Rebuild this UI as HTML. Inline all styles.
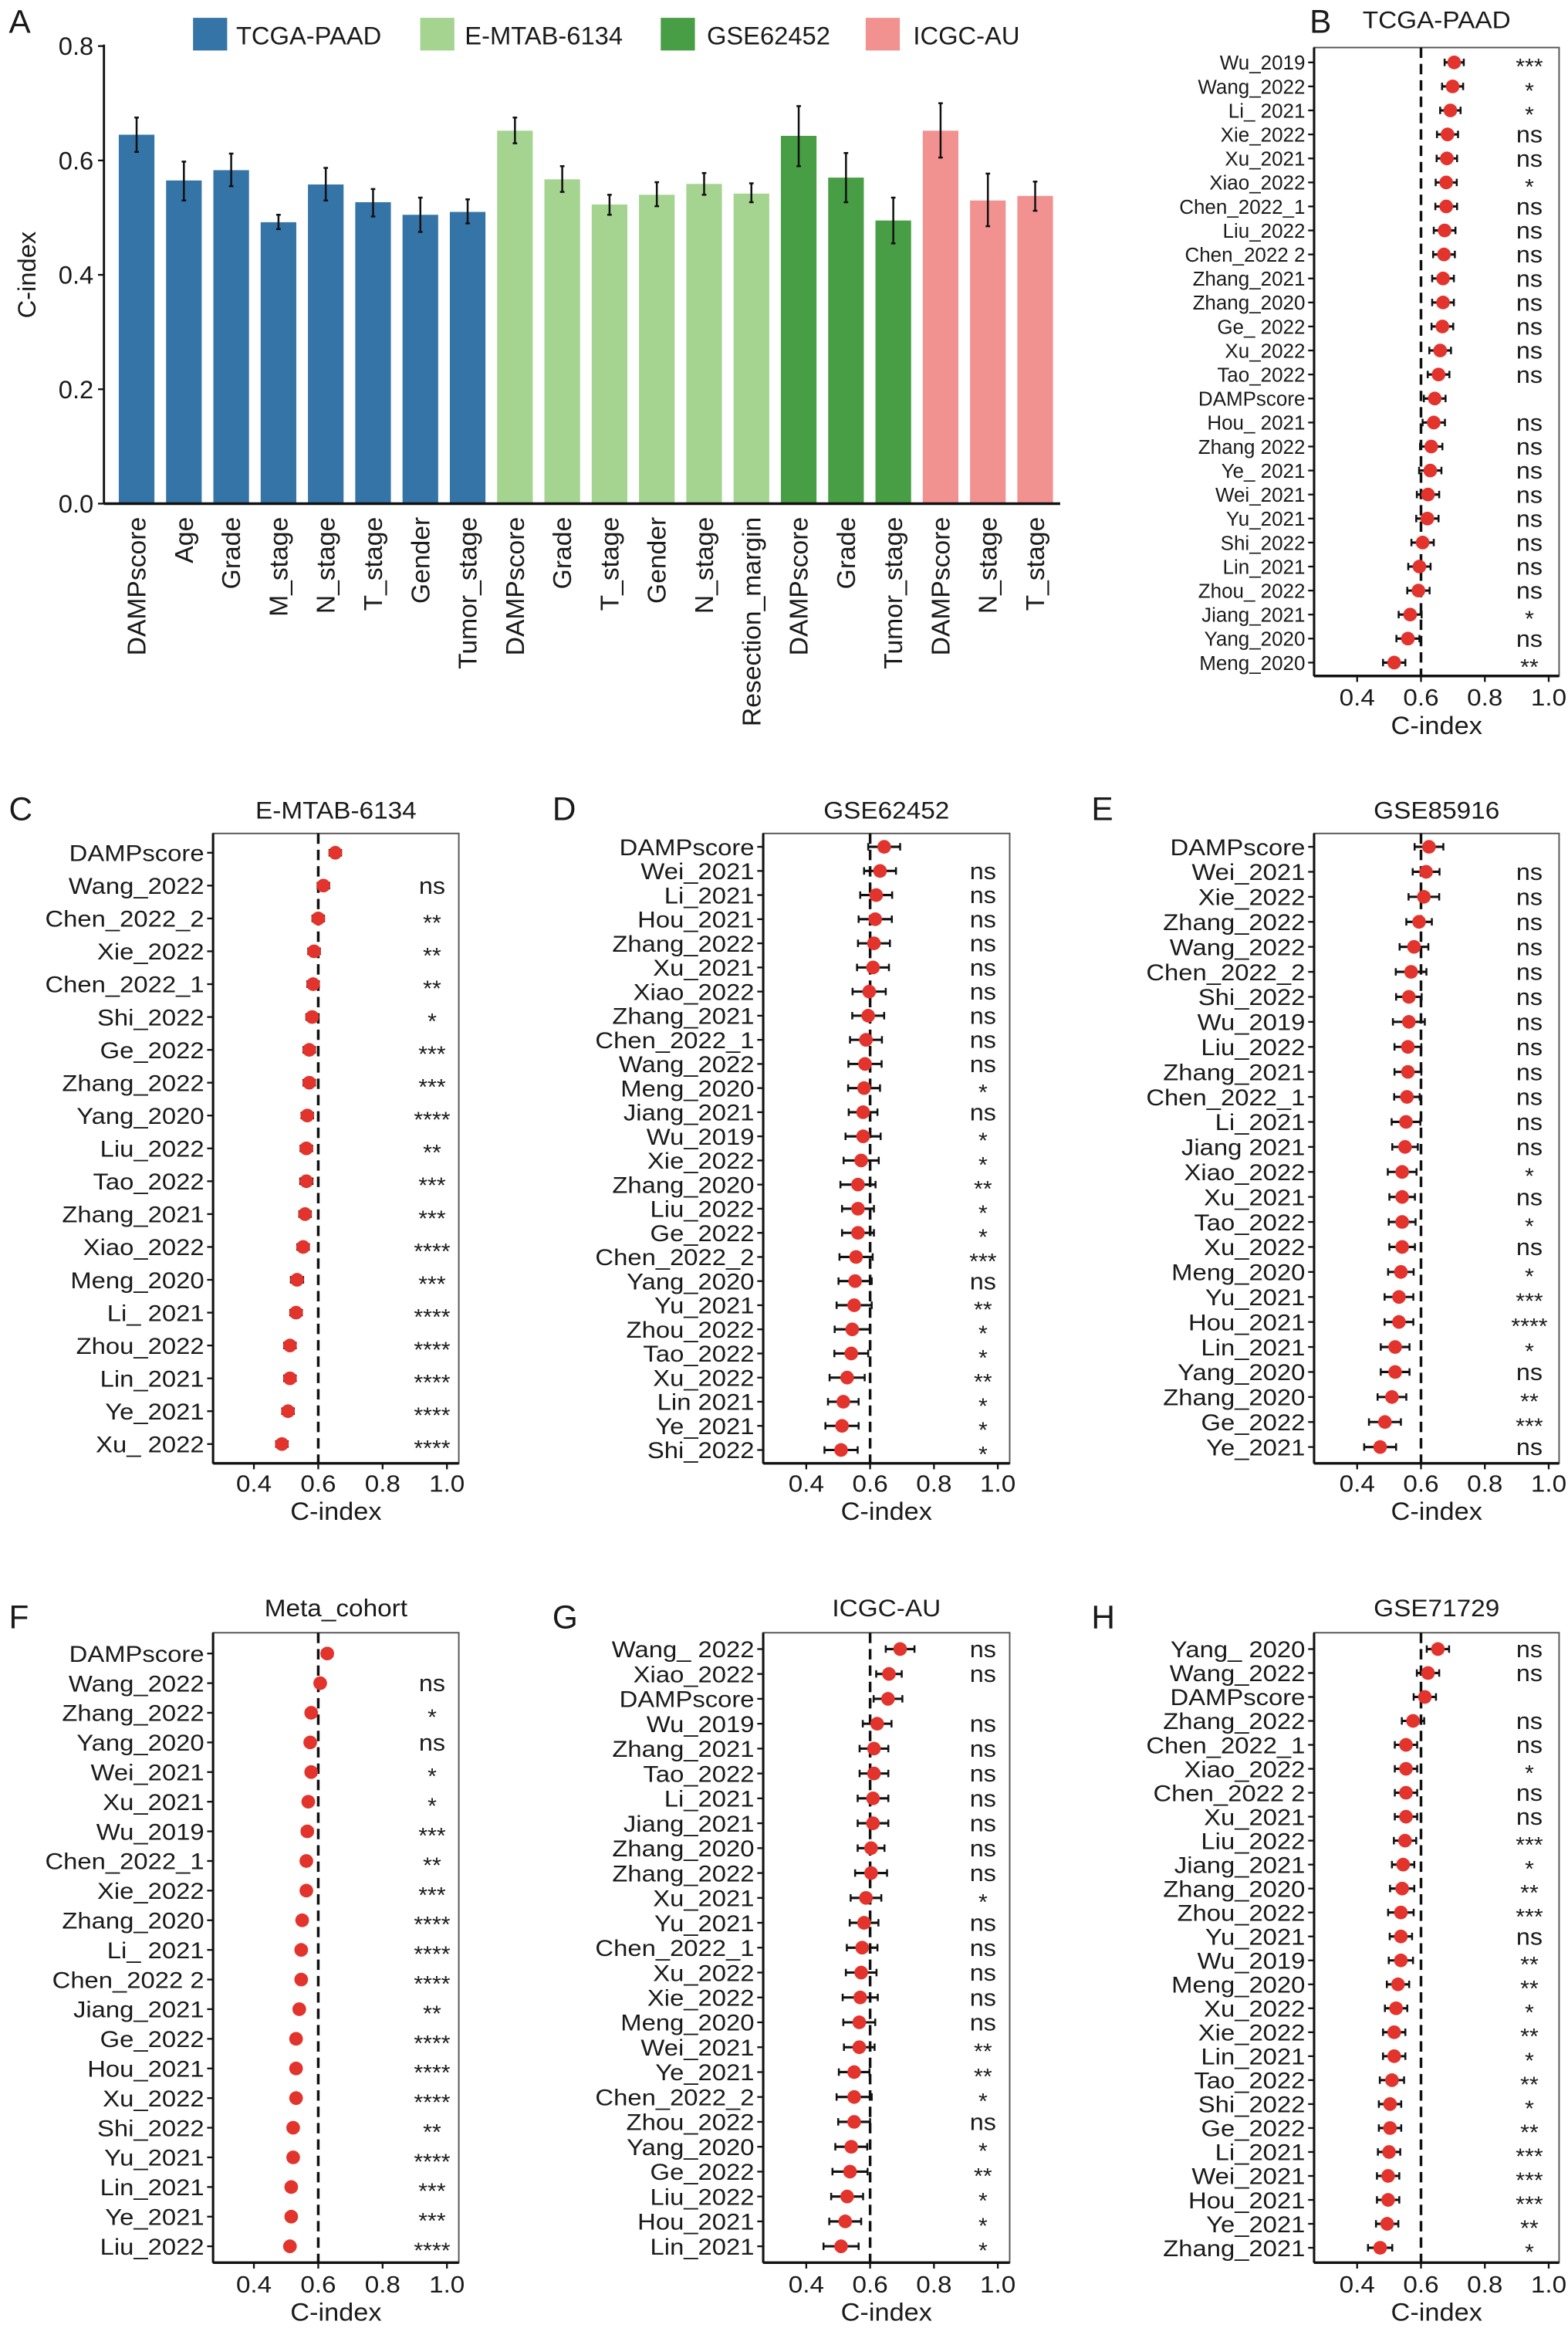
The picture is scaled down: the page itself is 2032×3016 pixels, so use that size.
<!DOCTYPE html>
<html><head><meta charset="utf-8">
<style>
html,body{margin:0;padding:0;background:#fff;}
svg{display:block;font-family:"Liberation Sans",Arial,sans-serif;}
</style></head>
<body>
<svg id="fig" width="2032" height="3016" viewBox="0 0 1056 1567" preserveAspectRatio="none" xmlns="http://www.w3.org/2000/svg"></svg>
<script>
// ---------- Panel A data ----------
const aCategories = ["DAMPscore","Age","Grade","M_stage","N_stage","T_stage","Gender","Tumor_stage","DAMPscore","Grade","T_stage","Gender","N_stage","Resection_margin","DAMPscore","Grade","Tumor_stage","DAMPscore","N_stage","T_stage"];
const aGroups = [0,0,0,0,0,0,0,0,1,1,1,1,1,1,2,2,2,3,3,3];
const aValues = [0.645,0.565,0.583,0.492,0.558,0.527,0.505,0.510,0.652,0.567,0.523,0.540,0.559,0.542,0.643,0.570,0.495,0.652,0.530,0.538];
const aLower  = [0.615,0.530,0.555,0.480,0.530,0.502,0.475,0.490,0.630,0.545,0.505,0.520,0.540,0.527,0.590,0.527,0.455,0.605,0.485,0.512];
const aUpper  = [0.675,0.598,0.612,0.505,0.587,0.550,0.535,0.532,0.675,0.590,0.540,0.562,0.578,0.560,0.695,0.613,0.535,0.700,0.577,0.563];
const aGroupNames = ["TCGA-PAAD","E-MTAB-6134","GSE62452","ICGC-AU"];
const aYTicks = [0,0.2,0.4,0.6,0.8];

// ---------- Panel B ----------
const bLabels = ["Wu_2019","Wang_2022","Li_ 2021","Xie_2022","Xu_2021","Xiao_2022","Chen_2022_1","Liu_2022","Chen_2022 2","Zhang_2021","Zhang_2020","Ge_ 2022","Xu_2022","Tao_2022","DAMPscore","Hou_ 2021","Zhang 2022","Ye_ 2021","Wei_2021","Yu_2021","Shi_2022","Lin_2021","Zhou_ 2022","Jiang_2021","Yang_2020","Meng_2020"];
const bValues = [0.704,0.699,0.692,0.683,0.681,0.679,0.679,0.674,0.672,0.669,0.669,0.667,0.660,0.655,0.643,0.640,0.632,0.629,0.622,0.620,0.605,0.595,0.592,0.566,0.559,0.516];
const bErr = [0.030,0.033,0.032,0.033,0.032,0.033,0.034,0.034,0.034,0.034,0.034,0.034,0.034,0.034,0.034,0.035,0.035,0.035,0.035,0.035,0.035,0.035,0.035,0.036,0.036,0.035];
const bSig = ["***","*","*","ns","ns","*","ns","ns","ns","ns","ns","ns","ns","ns","","ns","ns","ns","ns","ns","ns","ns","ns","*","ns","**"];

// ---------- Panel C ----------
const cLabels = ["DAMPscore","Wang_2022","Chen_2022_2","Xie_2022","Chen_2022_1","Shi_2022","Ge_2022","Zhang_2022","Yang_2020","Liu_2022","Tao_2022","Zhang_2021","Xiao_2022","Meng_2020","Li_ 2021","Zhou_2022","Lin_2021","Ye_2021","Xu_ 2022"];
const cValues = [0.653,0.616,0.600,0.587,0.584,0.581,0.572,0.572,0.566,0.563,0.563,0.559,0.553,0.534,0.531,0.512,0.512,0.506,0.487];
const cErr = [0.018,0.018,0.018,0.018,0.018,0.018,0.018,0.018,0.018,0.018,0.019,0.018,0.018,0.019,0.018,0.018,0.018,0.018,0.018];
const cSig = ["","ns","**","**","**","*","***","***","****","**","***","***","****","***","****","****","****","****","****"];

// ---------- Panel D ----------
const dLabels = ["DAMPscore","Wei_2021","Li_2021","Hou_2021","Zhang_2022","Xu_2021","Xiao_2022","Zhang_2021","Chen_2022_1","Wang_2022","Meng_2020","Jiang_2021","Wu_2019","Xie_2022","Zhang_2020","Liu_2022","Ge_2022","Chen_2022_2","Yang_2020","Yu_2021","Zhou_2022","Tao_2022","Xu_2022","Lin 2021","Ye_2021","Shi_2022"];
const dValues = [0.644,0.631,0.619,0.616,0.612,0.609,0.597,0.594,0.587,0.584,0.581,0.578,0.578,0.572,0.562,0.562,0.562,0.556,0.553,0.550,0.544,0.541,0.528,0.516,0.512,0.509];
const dErr = [0.050,0.050,0.050,0.052,0.050,0.050,0.052,0.050,0.050,0.052,0.050,0.045,0.055,0.055,0.055,0.050,0.050,0.052,0.052,0.055,0.055,0.053,0.055,0.048,0.052,0.052];
const dSig = ["","ns","ns","ns","ns","ns","ns","ns","ns","ns","*","ns","*","*","**","*","*","***","ns","**","*","*","**","*","*","*"];

// ---------- Panel E ----------
const eLabels = ["DAMPscore","Wei_2021","Xie_2022","Zhang_2022","Wang_2022","Chen_2022_2","Shi_2022","Wu_2019","Liu_2022","Zhang_2021","Chen_2022_1","Li_2021","Jiang 2021","Xiao_2022","Xu_2021","Tao_2022","Xu_2022","Meng_2020","Yu_2021","Hou_2021","Lin_2021","Yang_2020","Zhang_2020","Ge_2022","Ye_2021"];
const eValues = [0.625,0.616,0.609,0.594,0.578,0.569,0.562,0.562,0.559,0.559,0.556,0.553,0.550,0.541,0.541,0.541,0.541,0.537,0.531,0.531,0.519,0.519,0.509,0.487,0.472];
const eErr = [0.045,0.042,0.048,0.040,0.045,0.048,0.040,0.050,0.042,0.042,0.040,0.045,0.040,0.045,0.040,0.042,0.040,0.040,0.045,0.045,0.045,0.045,0.045,0.050,0.050];
const eSig = ["","ns","ns","ns","ns","ns","ns","ns","ns","ns","ns","ns","ns","*","ns","*","ns","*","***","****","*","ns","**","***","ns"];

// ---------- Panel F ----------
const fLabels = ["DAMPscore","Wang_2022","Zhang_2022","Yang_2020","Wei_2021","Xu_2021","Wu_2019","Chen_2022_1","Xie_2022","Zhang_2020","Li_ 2021","Chen_2022 2","Jiang_2021","Ge_2022","Hou_2021","Xu_2022","Shi_2022","Yu_2021","Lin_2021","Ye_2021","Liu_2022"];
const fValues = [0.628,0.606,0.578,0.575,0.578,0.569,0.566,0.563,0.563,0.550,0.547,0.547,0.541,0.531,0.531,0.531,0.522,0.522,0.516,0.516,0.512];
const fErr = [0.016,0.015,0.015,0.015,0.015,0.015,0.016,0.015,0.015,0.015,0.015,0.015,0.015,0.015,0.015,0.015,0.015,0.015,0.015,0.015,0.015];
const fSig = ["","ns","*","ns","*","*","***","**","***","****","****","****","**","****","****","****","**","****","***","***","****"];

// ---------- Panel G ----------
const gLabels = ["Wang_ 2022","Xiao_2022","DAMPscore","Wu_2019","Zhang_2021","Tao_2022","Li_2021","Jiang_2021","Zhang_2020","Zhang_2022","Xu_2021","Yu_2021","Chen_2022_1","Xu_2022","Xie_2022","Meng_2020","Wei_2021","Ye_2021","Chen_2022_2","Zhou_2022","Yang_2020","Ge_2022","Liu_2022","Hou_2021","Lin_2021"];
const gValues = [0.694,0.659,0.656,0.622,0.612,0.612,0.609,0.609,0.603,0.603,0.587,0.581,0.575,0.572,0.569,0.566,0.566,0.550,0.550,0.550,0.541,0.537,0.528,0.522,0.509];
const gErr = [0.045,0.040,0.045,0.045,0.045,0.045,0.048,0.048,0.042,0.050,0.048,0.045,0.048,0.048,0.055,0.050,0.048,0.048,0.055,0.050,0.050,0.055,0.050,0.050,0.055];
const gSig = ["ns","ns","","ns","ns","ns","ns","ns","ns","ns","*","ns","ns","ns","ns","ns","**","**","*","ns","*","**","*","*","*"];

// ---------- Panel H ----------
const hLabels = ["Yang_ 2020","Wang_2022","DAMPscore","Zhang_2022","Chen_2022_1","Xiao_2022","Chen_2022 2","Xu_2021","Liu_2022","Jiang_2021","Zhang_2020","Zhou_2022","Yu_2021","Wu_2019","Meng_2020","Xu_2022","Xie_2022","Lin_2021","Tao_2022","Shi_2022","Ge_2022","Li_2021","Wei_2021","Hou_2021","Ye_2021","Zhang_2021"];
const hValues = [0.653,0.622,0.612,0.575,0.553,0.553,0.553,0.553,0.550,0.544,0.541,0.537,0.537,0.537,0.528,0.522,0.516,0.516,0.509,0.503,0.503,0.500,0.497,0.497,0.494,0.472];
const hErr = [0.035,0.035,0.035,0.035,0.035,0.035,0.035,0.035,0.035,0.035,0.038,0.040,0.035,0.038,0.035,0.035,0.035,0.035,0.038,0.035,0.035,0.035,0.035,0.035,0.035,0.038];
const hSig = ["ns","ns","","ns","ns","*","ns","ns","***","*","**","***","ns","**","**","*","**","*","**","*","**","***","***","***","**","*"];

const forestTicks = [0.4,0.6,0.8,1.0];
const forestTickLabels = ["0.4","0.6","0.8","1.0"];

const NS = "http://www.w3.org/2000/svg";
const svg = document.getElementById('fig');
function mk(tag, attrs, parent){
  const e = document.createElementNS(NS, tag);
  for (const k in attrs) e.setAttribute(k, attrs[k]);
  (parent||svg).appendChild(e);
  return e;
}
function txt(str, x, y, size, anchor, parent, sx, extra){
  const t = mk('text', {x:0, y:0, 'font-size':size, 'text-anchor':anchor||'start', fill:'#1a1a1a',
    transform:'translate('+x+','+y+')'+(sx&&sx!==1?' scale('+sx+',1)':'')+(extra||'')}, parent);
  t.textContent = str;
  return t;
}

// ================= Panel A =================
(function(){
  const g = mk('g', {});
  
  
  const colors = ["#3574a7","#a4d490","#489e45","#f29290"];
  const y0 = 339, y1 = 31, vmax = 0.8;
  const yScale = v => y0 - (v / vmax) * (y0 - y1);
  const axisX = 70, step = 31.85, firstC = 92, bw = 24;
  const xScale = i => firstC + i * step;

  const lt = txt('A', 6, 22, 22, 'start', g);
  
  

  // legend
  const legX = [130, 283, 445, 583];
  const legT = [159, 313, 476, 615];
  aGroupNames.forEach((n, k) => {
    const lg = mk('g', {}, g);
    
    
    mk('rect', {x:legX[k], y:12, width:23, height:22, fill:colors[k]}, lg);
    txt(n, legT[k], 30, 17, 'start', lg);
  });

  // y axis
  const ya = mk('line', {x1:axisX, y1:y1-1, x2:axisX, y2:y0, stroke:'#111', 'stroke-width':1.5}, g);
  
  
  aYTicks.forEach(v => {
    mk('line', {x1:axisX-4, y1:yScale(v), x2:axisX, y2:yScale(v), stroke:'#111', 'stroke-width':1.2}, g);
    const t = txt(v.toFixed(1), axisX-7, yScale(v)+6, 17, 'end', g);
    
    
  });
  const yt = txt('C-index', 24, 185, 17, 'middle', g, 1, ' rotate(-90)');
  
  

  aValues.forEach((v, i) => {
    const cx = xScale(i);
    const r = mk('rect', {x:cx-bw/2, y:yScale(v), width:bw, height:y0-yScale(v), fill:colors[aGroups[i]]}, g);
    
    
    const e = mk('line', {x1:cx, y1:yScale(aUpper[i]), x2:cx, y2:yScale(aLower[i]), stroke:'#111', 'stroke-width':1.3}, g);
    
    
    mk('line', {x1:cx-1.5, y1:yScale(aUpper[i]), x2:cx+1.5, y2:yScale(aUpper[i]), stroke:'#111', 'stroke-width':1.3}, g);
    mk('line', {x1:cx-1.5, y1:yScale(aLower[i]), x2:cx+1.5, y2:yScale(aLower[i]), stroke:'#111', 'stroke-width':1.3}, g);
    const t = txt(aCategories[i], cx+6, y0+9, 17.5, 'end', g, 1, ' rotate(-90)');
    
    
  });
  const xa = mk('line', {x1:axisX, y1:y0, x2:714, y2:y0, stroke:'#111', 'stroke-width':1.8}, g);
  
  
})();

// ================= Forest panels =================
function forest(cfg){
  const g = mk('g', {});
  
  
  const xs = v => cfg.x04 + (v - 0.4) / 0.6 * (cfg.x10 - cfg.x04);
  const n = cfg.labels.length;
  const ys = i => cfg.r0 + i * (cfg.r1 - cfg.r0) / (n - 1);

  const lt = txt(cfg.letter, cfg.lx, cfg.ly, 22, 'start', g);
  
  
  const tt = txt(cfg.title, (cfg.bx0+cfg.bx1)/2, cfg.ty, 16.5, 'middle', g, 1.05);
  
  

  const box = mk('rect', {x:cfg.bx0, y:cfg.by0, width:cfg.bx1-cfg.bx0, height:cfg.by1-cfg.by0, fill:'none', stroke:'#555', 'stroke-width':1}, g);
  
  
  mk('line', {x1:cfg.bx0, y1:cfg.by0, x2:cfg.bx0, y2:cfg.by1, stroke:'#111', 'stroke-width':1.6}, g);
  mk('line', {x1:cfg.bx0, y1:cfg.by1, x2:cfg.bx1, y2:cfg.by1, stroke:'#111', 'stroke-width':1.8}, g);

  const dl = mk('line', {x1:xs(0.6), y1:cfg.by0, x2:xs(0.6), y2:cfg.by1, stroke:'#111', 'stroke-width':1.8, 'stroke-dasharray':'7,4'}, g);
  
  

  forestTicks.forEach((v, k) => {
    mk('line', {x1:xs(v), y1:cfg.by1, x2:xs(v), y2:cfg.by1+4, stroke:'#111', 'stroke-width':1.2}, g);
    const t = txt(forestTickLabels[k], xs(v), cfg.tky, 16, 'middle', g, 1.08);
    
    
  });
  const xt = txt('C-index', (cfg.bx0+cfg.bx1)/2, cfg.xty, 17, 'middle', g, 1.05);
  
  

  cfg.labels.forEach((lab, i) => {
    const y = ys(i);
    mk('line', {x1:cfg.bx0-4, y1:y, x2:cfg.bx0, y2:y, stroke:'#111', 'stroke-width':1.2}, g);
    const t = txt(lab, cfg.bx0-6, y+cfg.fs*0.36, cfg.fs, 'end', g, cfg.sx);
    
    
    const v = cfg.values[i], e = cfg.err[i];
    const eb = mk('line', {x1:xs(v-e), y1:y, x2:xs(v+e), y2:y, stroke:'#111', 'stroke-width':1.6}, g);
    
    
    mk('line', {x1:xs(v-e), y1:y-2.5, x2:xs(v-e), y2:y+2.5, stroke:'#111', 'stroke-width':1.3}, g);
    mk('line', {x1:xs(v+e), y1:y-2.5, x2:xs(v+e), y2:y+2.5, stroke:'#111', 'stroke-width':1.3}, g);
    const p = mk('circle', {cx:xs(v), cy:y, r:4.6, fill:'#e2332c'}, g);
    
    
    const s = cfg.sig[i];
    if (s) {
      const st = txt(s, cfg.sigx, y + (s === 'ns' ? 5.5 : 8), s === 'ns' ? 16 : 15, 'middle', g, 1.05);
      
      
    }
  });
}

const colB = {bx0:885, bx1:1050, x04:914, x10:1043, sigx:1030, lx:882};
const colC = {bx0:143.5, bx1:309, x04:171, x10:301, sigx:291, lx:6};
const colD = {bx0:514, bx1:680, x04:543, x10:672, sigx:662, lx:372};

forest(Object.assign({}, colB, {letter:'B', ly:22, title:'TCGA-PAAD', ty:19, by0:32, by1:455, r0:42, r1:446, tky:475, xty:494, fs:13.5, sx:1.0, labels:bLabels, values:bValues, err:bErr, sig:bSig}));
forest(Object.assign({}, colC, {letter:'C', ly:552, title:'E-MTAB-6134', ty:551, by0:561, by1:985, r0:574, r1:972, tky:1004, xty:1023, fs:15.5, sx:1.1, labels:cLabels, values:cValues, err:cErr, sig:cSig}));
forest(Object.assign({}, colD, {letter:'D', ly:552, title:'GSE62452', ty:551, by0:561, by1:985, r0:570, r1:976, tky:1004, xty:1023, fs:15.5, sx:1.1, labels:dLabels, values:dValues, err:dErr, sig:dSig}));
forest(Object.assign({}, colB, {letter:'E', lx:735, ly:552, title:'GSE85916', ty:551, by0:561, by1:985, r0:570, r1:974, tky:1004, xty:1023, fs:15.5, sx:1.1, labels:eLabels, values:eValues, err:eErr, sig:eSig}));
forest(Object.assign({}, colC, {letter:'F', ly:1096, title:'Meta_cohort', ty:1088, by0:1099, by1:1523, r0:1113, r1:1512, tky:1543, xty:1562, fs:15.5, sx:1.1, labels:fLabels, values:fValues, err:fErr, sig:fSig}));
forest(Object.assign({}, colD, {letter:'G', ly:1096, title:'ICGC-AU', ty:1088, by0:1099, by1:1523, r0:1110, r1:1512, tky:1543, xty:1562, fs:15.5, sx:1.1, labels:gLabels, values:gValues, err:gErr, sig:gSig}));
forest(Object.assign({}, colB, {letter:'H', lx:735, ly:1096, title:'GSE71729', ty:1088, by0:1099, by1:1523, r0:1110, r1:1513, tky:1543, xty:1562, fs:15.5, sx:1.1, labels:hLabels, values:hValues, err:hErr, sig:hSig}));
</script>
</body></html>
